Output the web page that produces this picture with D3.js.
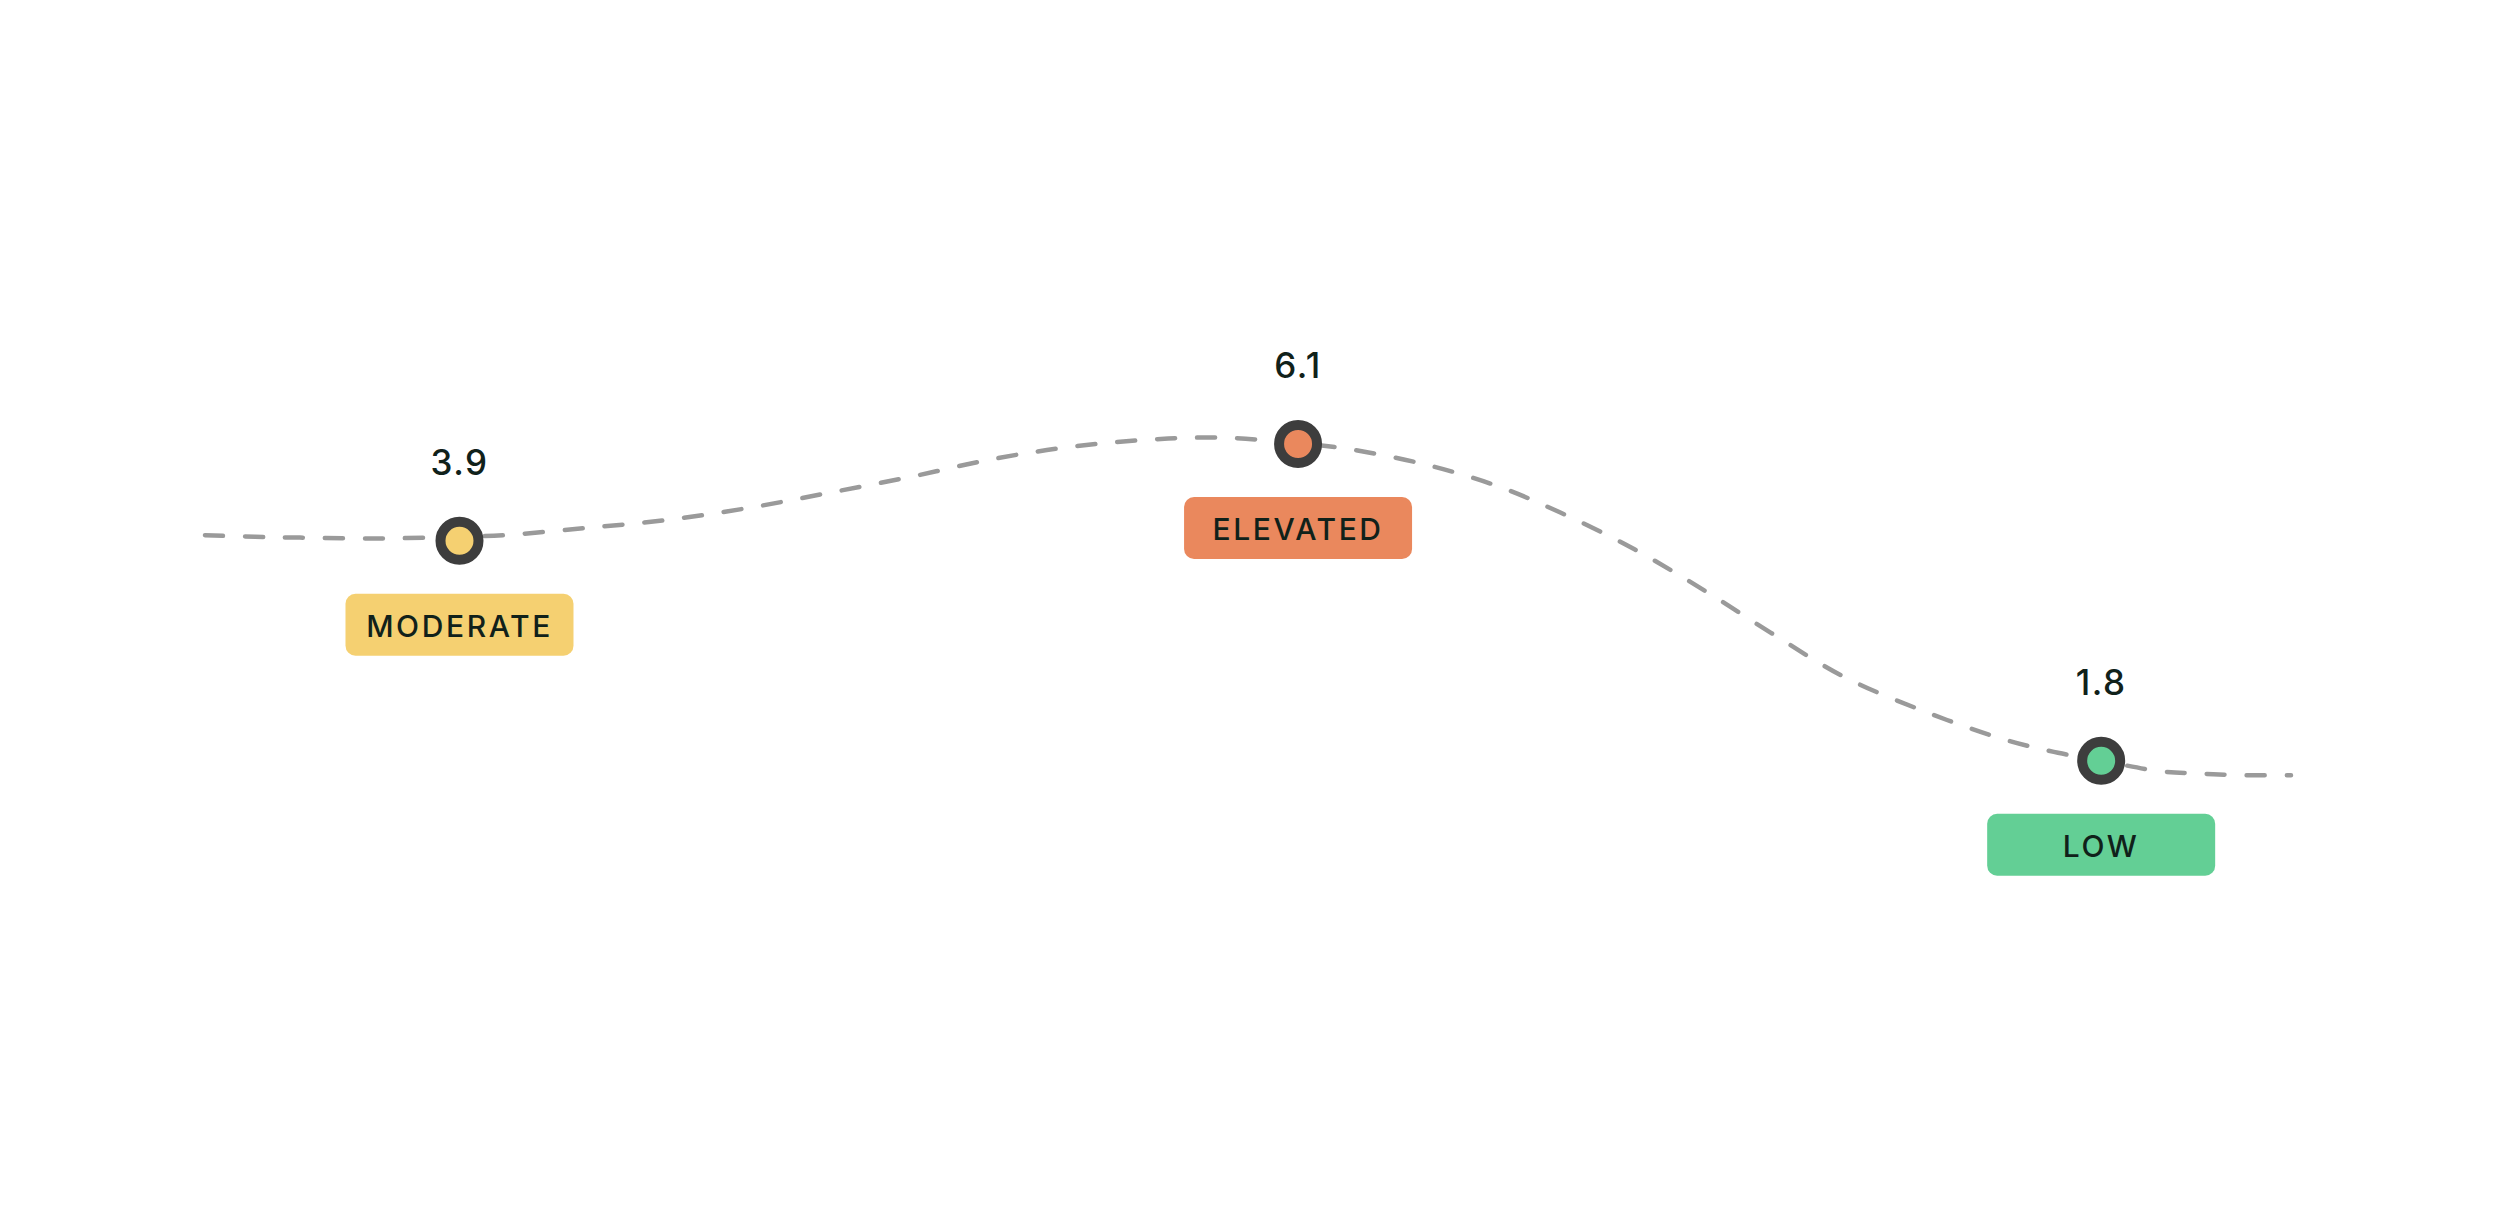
<!DOCTYPE html>
<html>
<head>
<meta charset="utf-8">
<script src="https://cdn.jsdelivr.net/npm/d3@7"></script>
<style>
  html, body { margin: 0; padding: 0; background: #ffffff; }
  svg { display: block; }
</style>
</head>
<body>
<svg id="chart" width="2500" height="1217"></svg>
<script>
// ---- data ----
const categories = ["MODERATE", "ELEVATED", "LOW"];
const values = [3.9, 6.1, 1.8];
const valueLabels = ["3.9", "6.1", "1.8"];
// position of each reading along the track (0–100)
const trackPos = [12.2, 52.4, 90.9];
// plotted level of each reading (0–10)
const levels = [5.74, 6.95, 2.99];
// background trend line: track positions and levels
const trendPos = [0, 2.40, 4.55, 8.39, 12.18, 14.33, 18.22, 22.15, 26.03, 29.91,
  33.84, 37.73, 41.37, 45.01, 48.66, 52.40, 54.51, 58.25, 61.79, 65.00, 68.55,
  71.81, 75.07, 78.57, 82.60, 86.34, 88.83, 90.94, 93.72, 95.64, 97.56, 100];
const trendLevel = [5.81, 5.79, 5.78, 5.77, 5.79, 5.81, 5.90, 6.00, 6.15, 6.34,
  6.54, 6.76, 6.91, 7.00, 7.03, 6.96, 6.90, 6.71, 6.44, 6.09, 5.63,
  5.13, 4.59, 4.04, 3.59, 3.25, 3.09, 2.99, 2.86, 2.83, 2.81, 2.81];
const colors = ["#F5D071", "#EA885D", "#63CF95"];

// ---- scales ----
const svg = d3.select("#chart");
const x = d3.scaleLinear().domain([0, 100]).range([205, 2291]);
const y = d3.scaleLinear().domain([0, 10]).range([1000, 200]);

const points = categories.map((c, i) => ({
  cat: c, value: values[i], label: valueLabels[i],
  t: trackPos[i], lvl: levels[i], color: colors[i]
}));

const trend = trendPos.map((t, i) => ({t: t, lvl: trendLevel[i]}));

const line = d3.line()
  .x(d => x(d.t))
  .y(d => y(d.lvl))
  .curve(d3.curveCatmullRom.alpha(0.5));

svg.append("path")
  .datum(trend)
  .attr("d", line)
  .attr("fill", "none")
  .attr("stroke", "#9a9a9a")
  .attr("stroke-width", 4.5)
  .attr("stroke-linecap", "round")
  .attr("stroke-dasharray", "18 22");

const g = svg.selectAll("g.pt").data(points).enter().append("g")
  .attr("class", "pt")
  .attr("transform", d => `translate(${x(d.t)},${y(d.lvl)})`);

g.append("circle")
  .attr("r", 19)
  .attr("fill", d => d.color)
  .attr("stroke", "#3d3d3d")
  .attr("stroke-width", 10);

g.append("text")
  .attr("x", 0)
  .attr("y", -66)
  .attr("text-anchor", "middle")
  .attr("font-family", "Inter, 'Noto Sans', sans-serif")
  .attr("font-size", 35)
  .attr("font-weight", 500)
  .attr("letter-spacing", 1.5)
  .attr("fill", "#10211a")
  .text(d => d.label);

const bw = 228, bh = 62;
g.append("rect")
  .attr("x", -bw / 2)
  .attr("y", 53)
  .attr("width", bw)
  .attr("height", bh)
  .attr("rx", 10)
  .attr("fill", d => d.color);

g.append("text")
  .attr("x", 0)
  .attr("y", 54 + bh / 2)
  .attr("dy", "0.36em")
  .attr("text-anchor", "middle")
  .attr("font-family", "Inter, 'Noto Sans', sans-serif")
  .attr("font-size", 30)
  .attr("font-weight", 500)
  .attr("letter-spacing", 2.6)
  .attr("fill", "#10211a")
  .text(d => d.cat);
</script>
</body>
</html>
